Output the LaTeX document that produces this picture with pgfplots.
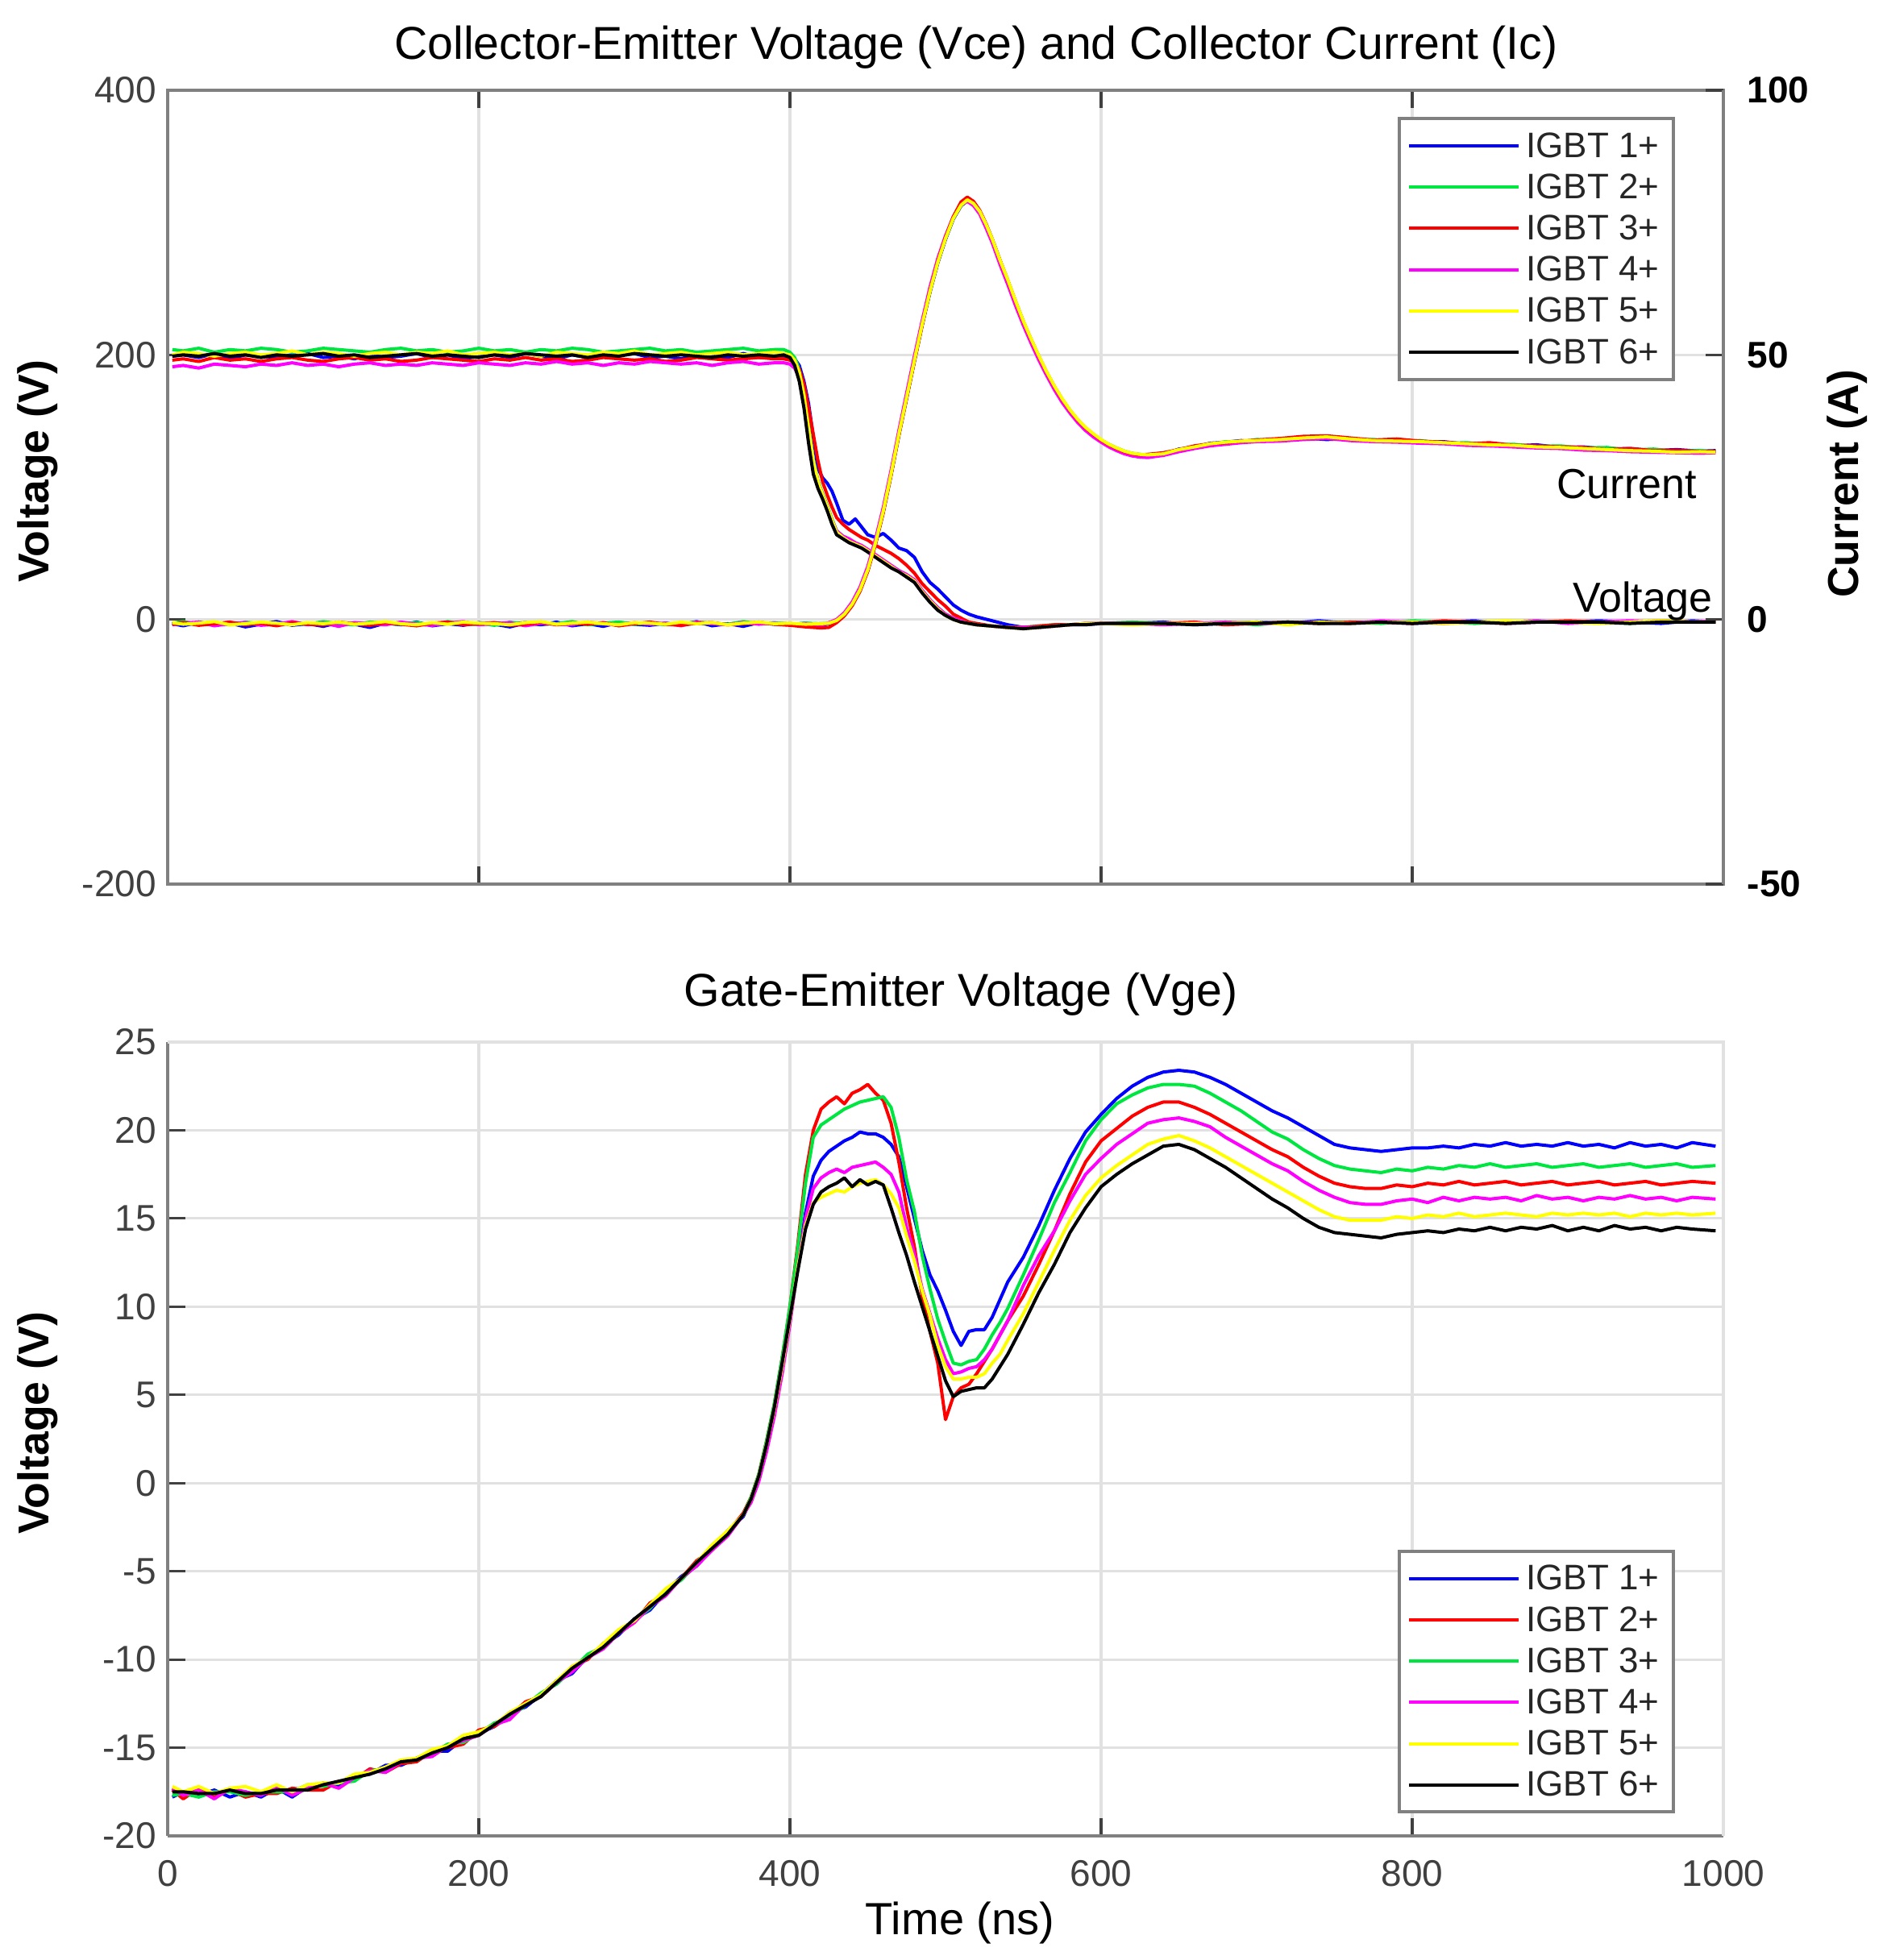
\documentclass[border=0pt]{standalone}
\usepackage{pgfplots}
\usepackage{pgfplotstable}
\usepackage{fontspec}
\setmainfont{Liberation Sans}
\pgfplotsset{compat=1.18}
\definecolor{mblue}{RGB}{0,0,255}
\definecolor{mgreen}{RGB}{0,230,64}
\definecolor{mred}{RGB}{255,0,0}
\definecolor{mmag}{RGB}{255,0,255}
\definecolor{myel}{RGB}{255,255,0}
\definecolor{axcol}{RGB}{128,128,128}
\definecolor{gridcol}{RGB}{225,225,225}
\definecolor{tickcol}{RGB}{64,64,64}
\newcommand\tickfont{\fontsize{11.5}{13}\selectfont}
\newcommand\legfont{\fontsize{11}{12}\selectfont}
\newcommand\titlefont{\fontsize{14.3}{16}\selectfont}
\newcommand\labfont{\fontsize{13.4}{15}\selectfont}

\pgfplotstableread{
t b g r m y k
3 199 204 196 191 200 199
10 200 203 197 192 202 200
20 198 205 195 190 201 199
30 201 202 198 193 199 201
40 197 204 196 192 201 199
50 200 203 197 191 202 200
60 199 205 195 193 200 198
70 198 204 197 192 201 200
80 200 202 198 194 203 199
90 201 203 196 192 200 200
100 198 205 195 193 202 201
110 199 204 197 191 201 199
120 197 203 198 193 199 200
130 200 202 196 194 201 198
140 198 204 197 192 202 199
150 199 205 195 193 200 200
160 201 203 196 192 202 201
170 198 204 198 194 201 199
180 200 202 197 193 203 200
190 197 203 196 192 200 199
200 199 205 195 194 201 198
210 200 203 197 193 202 200
220 198 204 196 192 200 199
230 201 202 198 194 201 201
240 199 204 196 193 199 200
250 197 203 197 195 202 199
260 200 205 195 193 201 200
270 198 204 196 194 200 198
280 199 202 198 192 202 200
290 200 203 197 194 201 199
300 201 204 196 193 203 201
310 198 205 197 195 200 200
320 199 203 195 194 201 199
330 197 204 196 193 202 200
340 200 202 198 194 200 199
350 199 203 197 192 201 198
360 198 204 196 194 202 200
370 201 205 197 195 200 199
380 198 203 198 193 201 200
390 199 204 197 194 202 199
396 199 204 197 194 201 200
400 199 202 196 193 200 198
403 197 198 194 190 196 192
406 192 189 189 183 187 180
409 180 172 178 168 170 160
412 163 146 160 143 144 133
415 138 121 140 119 120 110
418 114 105 120 104 104 99
421 107 95 104 94 94 91
424 103 86 94 85 85 82
427 97 76 85 75 75 72
430 88 67 77 67 66 64
434 75 63 72 63 62 61
438 72 60 68 61 59 58
442 76 57 65 58 57 56
446 70 55 62 56 55 54
450 64 52 60 53 52 51
455 62 48 56 49 48 47
460 65 44 53 45 44 43
465 60 40 50 41 40 39
470 54 37 46 37 36 36
475 52 33 41 34 33 32
480 47 29 35 30 29 28
485 36 22 27 22 21 20
490 28 15 21 15 14 13
495 23 9 15 9 8 7
500 17 4 10 4 3 3
505 11 1 4 1 0 0
510 7 -1 1 -1 -2 -2
515 4 -3 -2 -3 -3 -3
520 2 -4 -3 -4 -4 -4
530 -1 -5 -5 -5 -5 -5
540 -4 -6 -6 -6 -6 -6
550 -6 -6 -6 -6 -7 -7
560 -6 -5 -5 -6 -6 -6
570 -5 -4 -4 -5 -5 -5
580 -4 -4 -4 -4 -4 -4
590 -4 -3 -3 -3 -3 -4
600 -3 -3 -3 -3 -3 -3
620 -3 -2 -3 -3 -4 -3
640 -2 -3 -3 -4 -3 -3
660 -4 -3 -2 -3 -3 -4
680 -3 -2 -4 -2 -3 -3
700 -2 -4 -3 -3 -2 -3
720 -3 -2 -2 -3 -4 -2
740 -1 -3 -3 -2 -2 -3
760 -3 -2 -2 -3 -3 -3
780 -2 -3 -2 -1 -2 -2
800 -3 -1 -3 -2 -2 -3
820 -2 -2 -1 -3 -3 -2
840 -1 -3 -2 -2 -2 -2
860 -3 -2 -3 -2 -1 -3
880 -2 -1 -2 -1 -2 -2
900 -2 -2 -1 -3 -2 -2
920 -1 -2 -2 -2 -3 -2
940 -2 -3 -2 -1 -2 -3
960 -3 -1 -1 -2 -1 -2
980 -1 -2 -2 -2 -2 -2
995 -2 -1 -2 -1 -2 -2
}\TV

\pgfplotstableread{
t b g r m y k
3 -0.8 -0.7 -0.9 -1.0 -0.6 -0.8
10 -1.2 -0.4 -0.6 -0.7 -0.9 -0.7
20 -0.5 -0.9 -1.1 -0.5 -0.7 -0.9
30 -1.0 -0.6 -0.8 -1.2 -0.4 -0.8
40 -0.7 -1.0 -0.5 -0.8 -1.0 -0.6
50 -1.4 -0.5 -1.0 -0.6 -0.8 -0.9
60 -0.9 -0.8 -0.7 -1.1 -0.5 -0.8
70 -0.4 -1.1 -1.2 -0.9 -0.7 -0.7
80 -1.1 -0.6 -0.6 -0.4 -1.0 -0.9
90 -0.8 -0.9 -0.9 -1.0 -0.6 -0.8
100 -1.3 -0.4 -1.0 -0.7 -0.8 -0.6
110 -0.6 -0.8 -0.5 -1.3 -0.5 -0.8
120 -0.9 -1.0 -0.8 -0.6 -0.9 -0.9
130 -1.5 -0.5 -1.1 -0.8 -0.7 -0.7
140 -0.7 -0.7 -0.6 -1.0 -0.4 -0.8
150 -1.0 -0.9 -0.9 -0.5 -0.8 -0.6
160 -0.5 -0.6 -1.2 -0.9 -1.0 -0.9
170 -1.2 -1.0 -0.7 -1.1 -0.6 -0.8
180 -0.8 -0.4 -0.5 -0.7 -0.9 -0.7
190 -1.1 -0.8 -1.0 -0.4 -0.5 -0.8
200 -0.6 -0.7 -0.8 -1.0 -0.7 -0.9
210 -0.9 -1.1 -0.6 -0.8 -0.8 -0.7
220 -1.4 -0.5 -1.1 -0.6 -1.0 -0.8
230 -0.7 -0.9 -0.9 -1.2 -0.6 -0.6
240 -1.0 -0.6 -0.5 -0.7 -0.4 -0.9
250 -0.5 -0.8 -1.0 -0.9 -0.9 -0.8
260 -1.2 -0.4 -0.7 -1.0 -0.7 -0.7
270 -0.8 -1.0 -0.9 -0.5 -0.5 -0.9
280 -1.3 -0.7 -0.6 -0.8 -0.8 -0.8
290 -0.6 -0.5 -1.2 -1.1 -1.0 -0.6
300 -0.9 -0.9 -0.8 -0.6 -0.6 -0.8
310 -1.1 -0.6 -0.5 -0.9 -0.7 -0.7
320 -0.7 -1.0 -0.9 -0.7 -0.9 -0.9
330 -1.0 -0.8 -1.1 -1.2 -0.5 -0.8
340 -0.4 -0.5 -0.7 -0.5 -0.8 -0.7
350 -1.2 -0.7 -0.6 -0.8 -0.6 -0.8
360 -0.8 -0.9 -1.0 -1.0 -1.0 -0.9
370 -1.3 -0.4 -0.8 -0.6 -0.7 -0.6
380 -0.6 -0.8 -0.5 -0.9 -0.5 -0.8
390 -0.9 -0.6 -0.9 -0.7 -0.8 -0.7
400 -1.0 -0.9 -1.1 -1.0 -0.7 -0.8
410 -0.7 -0.7 -1.4 -0.8 -0.9 -0.9
420 -1.1 -0.8 -1.6 -1.1 -0.8 -0.8
425 -0.8 -0.7 -1.5 -0.6 -0.7 -0.8
430 -0.3 -0.2 -0.6 0.0 -0.2 -0.3
435 0.9 1.0 0.7 1.3 1.0 0.9
440 2.8 2.9 2.6 3.3 2.9 2.8
445 5.5 5.6 5.3 6.1 5.6 5.5
450 9.3 9.4 9.1 10.0 9.4 9.3
455 14.4 14.5 14.2 15.2 14.5 14.4
460 20.4 20.5 20.2 21.2 20.5 20.4
465 27.4 27.5 27.3 28.2 27.5 27.4
470 34.9 35.0 34.8 35.7 35.0 34.9
475 41.9 42.0 41.8 42.8 42.0 41.9
480 48.9 49.0 48.8 49.8 49.0 48.9
485 55.7 55.8 55.6 56.5 55.8 55.7
490 61.9 62.0 62.1 62.8 62.0 61.9
495 67.4 67.5 67.6 68.2 67.5 67.4
500 71.9 72.0 72.2 72.5 72.0 71.9
505 75.7 75.8 76.1 76.1 75.8 75.7
510 78.2 78.3 78.9 78.4 78.3 78.2
514 79.2 79.2 79.8 79.0 79.3 79.1
518 78.6 78.5 79.0 78.2 78.6 78.5
522 77.1 77.0 77.3 76.6 77.1 77.0
526 74.7 74.6 74.8 74.0 74.7 74.6
530 71.8 71.8 71.9 71.2 71.9 71.8
535 67.8 67.8 67.9 67.1 67.9 67.8
540 64.0 64.0 64.1 63.3 64.2 64.0
545 60.0 60.1 60.1 59.3 60.2 60.0
550 56.2 56.3 56.3 55.6 56.4 56.2
555 52.8 52.9 52.9 52.2 53.0 52.8
560 49.6 49.7 49.7 49.0 49.8 49.6
565 46.6 46.7 46.7 46.1 46.8 46.6
570 43.9 44.0 44.0 43.4 44.1 43.9
575 41.5 41.6 41.6 41.0 41.7 41.5
580 39.4 39.5 39.5 39.0 39.6 39.4
585 37.6 37.7 37.7 37.2 37.8 37.6
590 36.1 36.2 36.2 35.7 36.3 36.1
595 34.9 35.0 35.0 34.5 35.1 34.9
600 33.8 33.9 33.9 33.5 34.0 33.9
605 32.9 33.1 33.0 32.6 33.1 33.0
610 32.1 32.4 32.3 31.9 32.4 32.3
615 31.5 31.8 31.7 31.3 31.8 31.7
620 31.0 31.4 31.3 30.9 31.4 31.3
625 30.7 31.2 31.1 30.7 31.2 31.1
630 30.8 31.0 31.2 30.6 31.1 31.0
640 31.1 31.4 31.5 31.0 31.3 31.3
650 32.2 32.0 32.1 31.7 32.1 32.0
660 32.5 32.7 32.8 32.3 32.6 32.6
670 33.3 33.0 33.2 32.8 33.2 33.1
680 33.5 33.6 33.4 33.1 33.5 33.4
690 33.8 33.5 33.7 33.4 33.7 33.6
700 33.6 34.0 33.9 33.6 33.8 33.8
715 34.1 33.8 34.2 33.7 34.0 33.9
730 34.3 34.2 34.6 34.0 34.3 34.1
745 34.0 34.4 34.7 34.2 34.5 34.3
760 34.2 33.9 34.3 33.8 34.1 34.0
775 33.7 34.0 33.9 33.6 33.8 33.8
790 33.9 33.6 34.1 33.5 33.7 33.7
805 33.4 33.8 33.7 33.3 33.6 33.5
820 33.6 33.3 33.5 33.2 33.4 33.4
835 33.1 33.4 33.2 32.9 33.2 33.2
850 33.3 33.0 33.4 32.8 33.0 33.0
865 32.8 33.1 32.9 32.6 32.9 32.9
880 33.0 32.7 32.8 32.4 32.6 32.7
895 32.5 32.8 32.6 32.3 32.5 32.5
910 32.6 32.4 32.5 32.0 32.3 32.3
925 32.2 32.5 32.1 31.9 32.1 32.2
940 32.3 32.0 32.3 31.7 31.9 32.0
955 31.9 32.2 31.9 31.6 31.8 31.9
970 32.1 31.8 32.0 31.5 31.6 31.8
985 31.8 31.9 31.7 31.4 31.7 31.7
995 31.9 31.7 31.8 31.5 31.6 31.7
}\TI

\pgfplotstableread{
t b r g m y k
3 -17.8 -17.4 -17.7 -17.3 -17.2 -17.5
10 -17.5 -17.9 -17.6 -17.7 -17.5 -17.5
20 -17.7 -17.3 -17.8 -17.4 -17.2 -17.6
30 -17.4 -17.8 -17.5 -17.9 -17.6 -17.6
40 -17.8 -17.4 -17.5 -17.3 -17.3 -17.4
50 -17.5 -17.8 -17.7 -17.5 -17.2 -17.6
60 -17.8 -17.6 -17.5 -17.7 -17.5 -17.6
70 -17.3 -17.6 -17.5 -17.2 -17.1 -17.4
80 -17.8 -17.3 -17.5 -17.7 -17.5 -17.4
90 -17.2 -17.4 -17.1 -17.3 -17.1 -17.4
100 -17.1 -17.4 -17.2 -17.0 -17.0 -17.1
110 -17.2 -16.9 -17.0 -17.3 -17.0 -16.9
120 -16.6 -16.8 -16.9 -16.7 -16.5 -16.7
130 -16.5 -16.2 -16.3 -16.3 -16.4 -16.5
140 -16.0 -16.4 -16.2 -16.4 -16.1 -16.2
150 -16.0 -15.9 -15.8 -15.8 -15.7 -15.8
160 -15.6 -15.8 -15.7 -15.6 -15.6 -15.7
170 -15.2 -15.2 -15.3 -15.5 -15.1 -15.3
180 -15.2 -15.0 -14.8 -14.9 -14.9 -15.0
190 -14.5 -14.8 -14.7 -14.6 -14.3 -14.5
200 -14.2 -14.0 -14.2 -14.3 -14.1 -14.3
210 -13.8 -13.8 -13.6 -13.7 -13.7 -13.7
220 -13.0 -13.2 -13.3 -13.4 -13.0 -13.1
230 -12.7 -12.4 -12.6 -12.5 -12.5 -12.6
240 -12.0 -12.1 -11.9 -12.1 -12.0 -12.1
250 -11.2 -11.3 -11.4 -11.3 -11.2 -11.3
260 -10.8 -10.4 -10.6 -10.7 -10.4 -10.5
270 -9.8 -10.0 -9.7 -9.9 -9.9 -9.9
280 -9.2 -9.1 -9.3 -9.4 -9.1 -9.3
290 -8.6 -8.5 -8.4 -8.5 -8.3 -8.5
300 -7.7 -7.9 -7.8 -7.9 -7.8 -7.7
310 -7.2 -6.8 -7.1 -7.0 -6.9 -7.0
320 -6.2 -6.3 -6.1 -6.4 -6.0 -6.3
330 -5.3 -5.4 -5.5 -5.4 -5.4 -5.4
340 -4.7 -4.4 -4.6 -4.7 -4.5 -4.5
350 -3.7 -3.8 -3.6 -3.8 -3.5 -3.7
360 -2.7 -2.8 -2.9 -3.0 -2.7 -2.9
370 -1.9 -1.7 -1.8 -1.8 -1.8 -1.8
375 -0.9 -0.8 -0.8 -1.1 -0.9 -0.9
380 0.4 0.5 0.5 0.1 0.4 0.4
385 2.2 2.4 2.4 1.8 2.2 2.2
390 4.3 4.5 4.5 3.8 4.2 4.3
395 6.8 7.1 7.1 6.2 6.6 6.8
400 9.5 10.0 10.0 9.0 9.3 9.4
405 12.6 13.5 13.3 12.2 12.2 12.0
410 15.3 17.5 17.0 15.0 14.6 14.4
415 17.4 20.0 19.6 16.7 15.9 15.8
420 18.3 21.2 20.3 17.3 16.2 16.5
425 18.8 21.6 20.6 17.6 16.4 16.8
430 19.1 21.9 20.9 17.8 16.6 17.0
435 19.4 21.5 21.2 17.6 16.5 17.3
440 19.6 22.1 21.4 17.9 16.8 16.8
445 19.9 22.3 21.6 18.0 17.0 17.2
450 19.8 22.6 21.7 18.1 17.1 16.9
455 19.8 22.1 21.8 18.2 17.2 17.1
460 19.6 21.7 21.9 17.9 16.9 16.9
465 19.2 20.4 21.3 17.5 16.4 15.6
470 18.5 18.2 19.6 16.5 15.6 14.2
475 16.8 15.6 17.2 14.5 14.0 12.9
480 15.0 13.4 15.4 13.0 12.6 11.4
485 13.2 10.6 12.9 11.0 10.9 10.0
490 11.8 8.6 11.0 9.6 9.5 8.6
495 10.9 6.8 9.3 8.2 7.8 7.2
500 9.8 3.6 8.0 7.0 6.6 5.8
505 8.6 4.9 6.8 6.2 5.9 4.9
510 7.8 5.4 6.7 6.3 5.9 5.2
515 8.6 5.6 6.9 6.5 6.0 5.3
520 8.7 6.2 7.0 6.6 6.0 5.4
525 8.7 6.9 7.6 7.0 6.2 5.4
530 9.4 7.6 8.4 7.6 6.8 5.9
535 10.4 8.4 9.1 8.4 7.3 6.6
540 11.4 9.2 9.9 9.2 8.1 7.3
550 12.8 10.6 11.8 11.2 9.6 9.0
560 14.6 12.4 13.8 12.9 11.4 10.8
570 16.6 14.3 15.9 14.3 13.2 12.4
580 18.4 16.4 17.6 16.0 14.9 14.2
590 19.9 18.2 19.4 17.5 16.3 15.6
600 20.9 19.4 20.6 18.4 17.3 16.8
610 21.8 20.1 21.5 19.2 18.0 17.5
620 22.5 20.8 22.0 19.8 18.6 18.1
630 23.0 21.3 22.4 20.4 19.2 18.6
640 23.3 21.6 22.6 20.6 19.5 19.1
650 23.4 21.6 22.6 20.7 19.7 19.2
660 23.3 21.3 22.5 20.5 19.4 18.9
670 23.0 20.9 22.1 20.2 19.0 18.4
680 22.6 20.4 21.6 19.6 18.5 17.9
690 22.1 19.9 21.1 19.1 18.0 17.3
700 21.6 19.4 20.5 18.6 17.5 16.7
710 21.1 18.9 19.9 18.1 17.0 16.1
720 20.7 18.5 19.5 17.7 16.5 15.6
730 20.2 17.9 18.9 17.1 16.0 15.0
740 19.7 17.4 18.4 16.6 15.5 14.5
750 19.2 17.0 18.0 16.2 15.1 14.2
760 19.0 16.8 17.8 15.9 14.9 14.1
770 18.9 16.7 17.7 15.8 14.9 14.0
780 18.8 16.7 17.6 15.8 14.9 13.9
790 18.9 16.9 17.8 16.0 15.1 14.1
800 19.0 16.8 17.7 16.1 15.0 14.2
810 19.0 17.0 17.9 15.9 15.2 14.3
820 19.1 16.9 17.8 16.2 15.1 14.2
830 19.0 17.1 18.0 16.0 15.3 14.4
840 19.2 16.9 17.9 16.2 15.1 14.3
850 19.1 17.0 18.1 16.1 15.2 14.5
860 19.3 17.1 17.9 16.2 15.3 14.3
870 19.1 16.9 18.0 16.0 15.2 14.5
880 19.2 17.0 18.1 16.3 15.1 14.4
890 19.1 17.1 17.9 16.1 15.3 14.6
900 19.3 16.9 18.0 16.2 15.2 14.3
910 19.1 17.0 18.1 16.0 15.3 14.5
920 19.2 17.1 17.9 16.2 15.2 14.3
930 19.0 16.9 18.0 16.1 15.3 14.6
940 19.3 17.0 18.1 16.3 15.1 14.4
950 19.1 17.1 17.9 16.1 15.3 14.5
960 19.2 16.9 18.0 16.2 15.2 14.3
970 19.0 17.0 18.1 16.0 15.3 14.5
980 19.3 17.1 17.9 16.2 15.2 14.4
995 19.1 17.0 18.0 16.1 15.3 14.3
}\BG

\pgfplotsset{
  /pgf/number format/assume math mode=true,
  /pgf/number format/1000 sep={},
  myaxis/.style={
    scale only axis, width=482.5pt, height=246.25pt,
    xmin=0, xmax=1000,
    tick align=inside, major tick length=5.5pt,
    tick style={tickcol, line width=0.8pt},
    axis line style={axcol, line width=1pt},
    ticklabel style={font=\tickfont, text=tickcol},
    major grid style={gridcol, line width=0.8pt},
  },
  mylegend/.style={
    legend style={draw=axcol, line width=1pt, fill=white, font=\legfont,
      text=black!85, cells={anchor=west}, inner xsep=2.5pt, inner ysep=2pt,
      nodes={inner sep=1.9pt, text height=8pt, text depth=1pt}},
    legend image code/.code={\draw[##1, line width=1pt] (0pt,0pt) -- (34pt,0pt);},
  },
  dl/.style={line width=1pt, line join=round},
}

\begin{document}
\begin{tikzpicture}
\useasboundingbox (0,0) rectangle (585.25pt,608pt);

% ---------- top: voltage (left axis)
\begin{axis}[myaxis, mylegend, at={(52pt,333.75pt)}, anchor=south west,
  ymin=-200, ymax=400, ytick={-200,0,200,400}, ytick pos=left,
  xtick={0,200,400,600,800,1000}, xticklabels={},
  grid=major,
  legend style={at={(0.969,0.966)}, anchor=north east}]
\addplot[dl, mblue] table[x=t,y=b]{\TV};
\addplot[dl, mgreen] table[x=t,y=g]{\TV};
\addplot[dl, mred] table[x=t,y=r]{\TV};
\addplot[dl, mmag] table[x=t,y=m]{\TV};
\addplot[dl, myel] table[x=t,y=y]{\TV};
\addplot[dl, black] table[x=t,y=k]{\TV};
\legend{IGBT 1+,IGBT 2+,IGBT 3+,IGBT 4+,IGBT 5+,IGBT 6+}
\node[font=\fontsize{13}{14}\selectfont] at (axis cs:937.8,102.3) {Current};
\node[font=\fontsize{13}{14}\selectfont] at (axis cs:948.2,13.9) {Voltage};
\end{axis}

% ---------- top: current (right axis)
\begin{axis}[myaxis, at={(52pt,333.75pt)}, anchor=south west,
  ymin=-50, ymax=100, ytick={-50,0,50,100},
  axis x line=none, axis y line*=right,
  y axis line style={axcol, line width=1pt, -},
  yticklabel style={font=\tickfont\bfseries, text=black, xshift=3.9pt}]
\addplot[dl, black] table[x=t,y=k]{\TI};
\addplot[dl, mblue] table[x=t,y=b]{\TI};
\addplot[dl, mgreen] table[x=t,y=g]{\TI};
\addplot[dl, mmag] table[x=t,y=m]{\TI};
\addplot[dl, mred] table[x=t,y=r]{\TI};
\addplot[dl, myel] table[x=t,y=y]{\TI};
\end{axis}

% ---------- bottom: gate-emitter voltage
\begin{axis}[myaxis, mylegend, at={(52pt,38.5pt)}, anchor=south west,
  ymin=-20, ymax=25, ytick={-20,-15,-10,-5,0,5,10,15,20,25},
  xtick={0,200,400,600,800,1000},
  axis x line*=bottom, axis y line*=left,
  x axis line style={axcol, line width=1pt, -},
  y axis line style={axcol, line width=1pt, -},
  xticklabel style={yshift=-4pt},
  grid=major,
  legend style={at={(0.969,0.028)}, anchor=south east},
  after end axis/.code={\draw[gridcol, line width=1pt] (rel axis cs:0,1) -- (rel axis cs:1,1) -- (rel axis cs:1,0);}]
\addplot[dl, mblue] table[x=t,y=b]{\BG};
\addplot[dl, mred] table[x=t,y=r]{\BG};
\addplot[dl, mgreen] table[x=t,y=g]{\BG};
\addplot[dl, mmag] table[x=t,y=m]{\BG};
\addplot[dl, myel] table[x=t,y=y]{\BG};
\addplot[dl, black] table[x=t,y=k]{\BG};
\legend{IGBT 1+,IGBT 2+,IGBT 3+,IGBT 4+,IGBT 5+,IGBT 6+}
\end{axis}

% ---------- titles and labels
\node[font=\titlefont] at (302.75pt,593.25pt) {Collector-Emitter Voltage (Vce) and Collector Current (Ic)};
\node[font=\titlefont] at (298pt,299.5pt) {Gate-Emitter Voltage (Vge)};
\node[font=\labfont\bfseries, rotate=90] at (11.75pt,461.75pt) {Voltage (V)};
\node[font=\labfont\bfseries, rotate=90] at (11.75pt,166.5pt) {Voltage (V)};
\node[font=\labfont\bfseries, rotate=90] at (573pt,457.9pt) {Current (A)};
\node[font=\fontsize{14}{16}\selectfont] at (297.75pt,11.5pt) {Time (ns)};
\end{tikzpicture}
\end{document}
